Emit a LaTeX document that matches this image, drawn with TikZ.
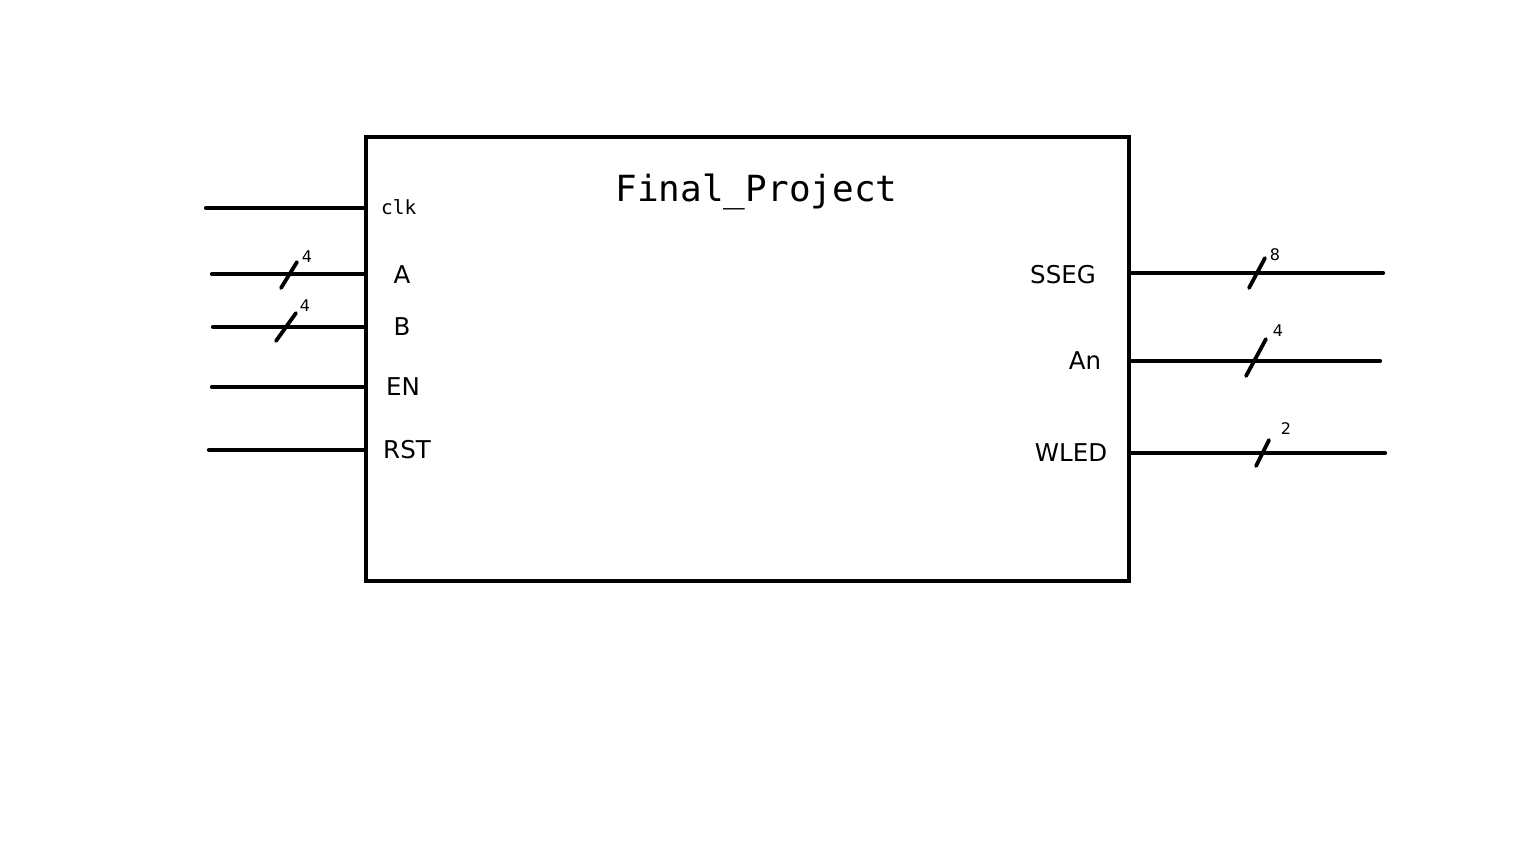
\documentclass[tikz,border=0pt]{standalone}
\usepackage{fontspec}
\setmainfont{DejaVu Sans}
\newfontfamily\monof{DejaVu Sans Mono}
\begin{document}
\begin{tikzpicture}[x=1pt,y=-1pt,
  wire/.style={line width=4.2pt,line cap=round},
  busmark/.style={line width=3.8pt,line cap=round},
  port/.style={inner sep=0pt,font=\fontsize{24.5}{27}\selectfont},
  width/.style={inner sep=0pt,font=\fontsize{16}{18}\selectfont}]
\useasboundingbox[fill=white] (0,0) rectangle (1536,864);
\node[draw,line width=4.2pt,minimum width=763pt,minimum height=444pt,inner sep=0pt,outer sep=0pt] (blk) at (747.5,359) {};
\node[inner sep=0pt,font=\monof\fontsize{36}{40}\selectfont] (title) at (756.5,192) {Final\_Project};
% left inputs
\coordinate (clkin) at (206,208);
\coordinate (ain) at (212,274);
\coordinate (bin) at (213,327);
\coordinate (enin) at (212,387);
\coordinate (rstin) at (209,450);
\draw[wire] (clkin) -- (blk.west |- clkin);
\draw[wire] (ain) -- (blk.west |- ain);
\draw[wire] (bin) -- (blk.west |- bin);
\draw[wire] (enin) -- (blk.west |- enin);
\draw[wire] (rstin) -- (blk.west |- rstin);
\node[inner sep=0pt,anchor=west,font=\monof\fontsize{19.5}{21}\selectfont] (clk) at (381,207) {clk};
\node[port] (la) at (402,275) {A};
\node[port] (lb) at (402,327) {B};
\node[port] (len) at (403,387) {EN};
\node[port] (lrst) at (407,450) {RST};
\draw[busmark] (281,288) -- (297,262);
\node[width] (wa) at (307,257) {4};
\draw[busmark] (276,341) -- (296,313);
\node[width] (wb) at (305,306) {4};
% right outputs
\coordinate (ssegout) at (1383,273);
\coordinate (anout) at (1380,361);
\coordinate (wledout) at (1385,453);
\draw[wire] (blk.east |- ssegout) -- (ssegout);
\draw[wire] (blk.east |- anout) -- (anout);
\draw[wire] (blk.east |- wledout) -- (wledout);
\node[port] (lsseg) at (1063,275) {SSEG};
\node[port] (lan) at (1085,361) {An};
\node[port] (lwled) at (1071,453) {WLED};
\draw[busmark] (1249,288) -- (1265,258);
\node[width] (ws) at (1275,255) {8};
\draw[busmark] (1246,376) -- (1266,339);
\node[width] (wn) at (1278,331) {4};
\draw[busmark] (1256,466) -- (1269,440);
\node[width] (ww) at (1286,429) {2};
\end{tikzpicture}
\end{document}
